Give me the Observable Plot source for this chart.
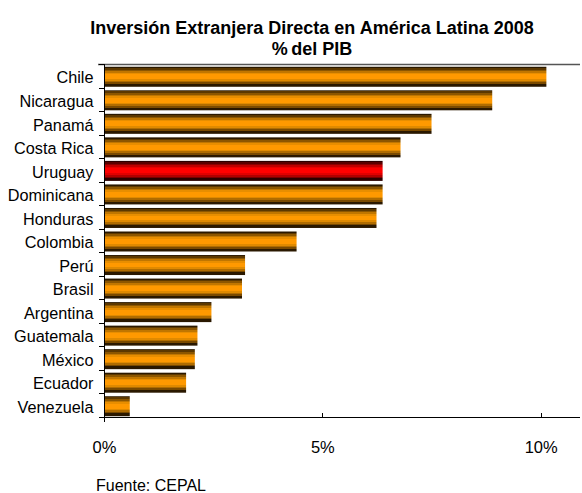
<!DOCTYPE html>
<html>
<head>
<meta charset="utf-8">
<script src="https://cdn.jsdelivr.net/npm/d3@7"></script>
<script src="https://cdn.jsdelivr.net/npm/@observablehq/plot@0.6"></script>
<style>
  html, body { margin: 0; padding: 0; background: #fff; }
  body { width: 582px; height: 493px; overflow: hidden; font-family: "Liberation Sans", Arial, sans-serif; color: #000; }
  #title { box-sizing: border-box; height: 61px; padding-top: 18px; padding-left: 42px; text-align: center; font-weight: bold; font-size: 18px; line-height: 21px; }
  #chart svg { display: block; }
  #caption { box-sizing: border-box; height: 32px; padding-top: 16px; padding-left: 96px; font-size: 16px; line-height: 18px; }
</style>
</head>
<body>
<div id="title">Inversión Extranjera Directa en América Latina 2008<br>%&#8201;del PIB</div>
<div id="chart"></div>
<div id="caption">Fuente: CEPAL</div>
<script>
const countries = ["Chile","Nicaragua","Panamá","Costa Rica","Uruguay","Dominicana","Honduras","Colombia","Perú","Brasil","Argentina","Guatemala","México","Ecuador","Venezuela"];
const iedPctPib = [10.13, 8.89, 7.50, 6.79, 6.38, 6.38, 6.24, 4.41, 3.23, 3.16, 2.46, 2.14, 2.08, 1.88, 0.59];
const highlighted = "Uruguay";
const xTicks = [0, 5, 10];
const xMax = 10.9;

const data = countries.map((c, i) => ({country: c, value: iedPctPib[i]}));

function gradientDefs() {
  const defs = d3.create("svg:defs");
  const make = (id, stops) => {
    const g = defs.append("linearGradient").attr("id", id).attr("x1", 0).attr("y1", 0).attr("x2", 0).attr("y2", 1);
    stops.forEach(([o, c]) => g.append("stop").attr("offset", o).attr("stop-color", c));
  };
  make("orangeGrad", [
    [0, "#2a1800"], [0.06, "#2a1800"], [0.06, "#5c3800"], [0.14, "#5c3800"],
    [0.14, "#8c5600"], [0.22, "#8c5600"], [0.22, "#c07600"], [0.30, "#c07600"],
    [0.30, "#e88e00"], [0.38, "#e88e00"], [0.38, "#ff9900"], [0.62, "#ff9900"],
    [0.62, "#e08a00"], [0.70, "#e08a00"], [0.70, "#b06c00"], [0.78, "#b06c00"],
    [0.78, "#7a4a00"], [0.86, "#7a4a00"], [0.86, "#2a1800"], [1, "#2a1800"]
  ]);
  make("redGrad", [
    [0, "#2a0000"], [0.06, "#2a0000"], [0.06, "#5c0000"], [0.14, "#5c0000"],
    [0.14, "#8c0000"], [0.22, "#8c0000"], [0.22, "#c00000"], [0.30, "#c00000"],
    [0.30, "#e80000"], [0.38, "#e80000"], [0.38, "#ff0000"], [0.62, "#ff0000"],
    [0.62, "#e00000"], [0.70, "#e00000"], [0.70, "#b00000"], [0.78, "#b00000"],
    [0.78, "#7a0000"], [0.86, "#7a0000"], [0.86, "#2a0000"], [1, "#2a0000"]
  ]);
  return () => defs.node();
}

function axisLines(index, scales, values, dims) {
  const g = d3.create("svg:g");
  const {width, height, marginLeft, marginRight, marginTop, marginBottom} = dims;
  const x0 = scales.x(0);
  const yTop = marginTop, yBot = height - marginBottom, xRight = width - marginRight;
  const n = countries.length;
  const step = (yBot - yTop) / n;
  // top border
  g.append("line").attr("x1", x0 - 6).attr("x2", xRight).attr("y1", yTop + 0.5).attr("y2", yTop + 0.5)
    .attr("stroke", "#555").attr("stroke-width", 1.5);
  // category boundary ticks
  for (let i = 0; i <= n; i++) {
    const yy = Math.round(yTop + i * step) + 0.5;
    g.append("line").attr("x1", x0 - 5).attr("x2", x0).attr("y1", yy).attr("y2", yy).attr("stroke", "#000");
  }
  // left axis
  g.append("line").attr("x1", x0 + 0.5).attr("x2", x0 + 0.5).attr("y1", yTop).attr("y2", yBot + 5).attr("stroke", "#000");
  // bottom axis
  g.append("line").attr("x1", x0).attr("x2", xRight).attr("y1", yBot + 0.5).attr("y2", yBot + 0.5).attr("stroke", "#000");
  // x ticks (inward)
  xTicks.filter(t => t > 0).forEach(t => {
    const xx = Math.round(scales.x(t)) + 0.5;
    g.append("line").attr("x1", xx).attr("x2", xx).attr("y1", yBot - 4).attr("y2", yBot).attr("stroke", "#000");
  });
  return g.node();
}

const chart = Plot.plot({
  width: 582,
  height: 400,
  marginTop: 3,
  marginBottom: 44,
  marginLeft: 104,
  marginRight: 2,
  style: {fontFamily: '"Liberation Sans", Arial, sans-serif', fontSize: "16px", color: "#000", background: "#fff"},
  x: {domain: [0, xMax], label: null},
  y: {domain: countries, paddingInner: 0.15, paddingOuter: 0.075, round: false, label: null},
  marks: [
    gradientDefs(),
    Plot.barX(data.filter(d => d.country !== highlighted), {x: "value", y: "country", fill: "url(#orangeGrad)", dy: 1}),
    Plot.barX(data.filter(d => d.country === highlighted), {x: "value", y: "country", fill: "url(#redGrad)", dy: 1}),
    Plot.axisY({label: null, tickSize: 0, tickPadding: 11, dy: 2, fontSize: 16.25}),
    Plot.axisX({label: null, ticks: xTicks, tickFormat: d => d + "%", tickSize: 0, tickPadding: 24, fontSize: 16.5}),
    axisLines
  ]
});
document.getElementById("chart").appendChild(chart);
</script>
</body>
</html>
